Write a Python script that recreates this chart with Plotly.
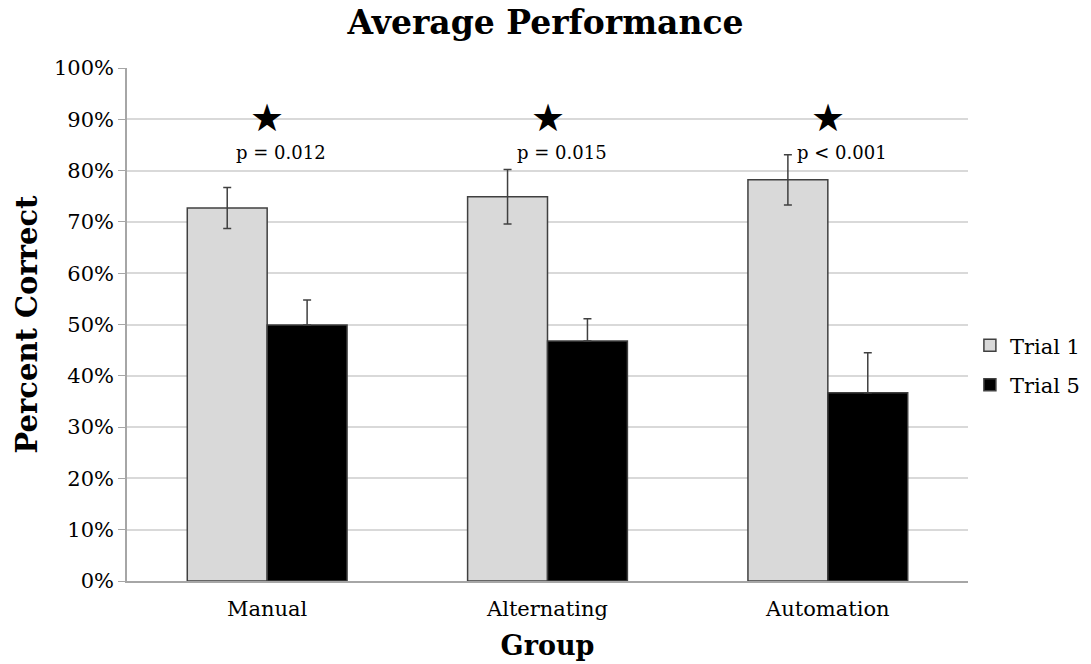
import plotly.graph_objects as go

groups = ["Manual", "Alternating", "Automation"]
trial1 = [72.7, 74.9, 78.2]
trial1_err = [4.0, 5.3, 4.9]
trial5 = [49.9, 46.8, 36.7]
trial5_err = [4.9, 4.3, 7.8]
p_labels = ["p = 0.012", "p = 0.015", "p < 0.001"]
star_y = 90.2
p_y = 83.6
y_ticks = list(range(0, 101, 10))
y_tick_text = [f"{v}%" for v in y_ticks]

FONT = "DejaVu Serif"
EDGE = "#404040"

fig = go.Figure()
fig.add_trace(go.Bar(
    name="Trial 1", x=groups, y=trial1, legendgroup="t1",
    marker=dict(color="#d9d9d9", line=dict(color=EDGE, width=1.5)),
    error_y=dict(type="data", array=trial1_err, visible=True, color=EDGE, thickness=1.5, width=4),
))
fig.add_trace(go.Bar(
    name="Trial 5", x=groups, y=trial5, legendgroup="t5",
    marker=dict(color="#000000", line=dict(color=EDGE, width=1.5)),
    error_y=dict(type="data", symmetric=False, array=trial5_err, arrayminus=[0] * len(trial5_err),
                 visible=True, color=EDGE, thickness=1.5, width=4),
))

for g, p in zip(groups, p_labels):
    fig.add_annotation(x=g, y=star_y, text="★", showarrow=False,
                       font=dict(family=FONT, size=38, color="black"), yanchor="middle")
    fig.add_annotation(x=g, y=p_y, text=p, showarrow=False, xshift=14,
                       font=dict(family=FONT, size=18, color="black"), yanchor="middle")

fig.update_layout(
    width=1091, height=664,
    paper_bgcolor="white", plot_bgcolor="white",
    margin=dict(l=127, r=123, t=68, b=83),
    barmode="group", bargap=0.43, bargroupgap=0,
    font=dict(family=FONT, color="black", size=20),
    title=dict(text="<b>Average Performance</b>", x=0.5, xanchor="center", y=0.966, yanchor="middle",
               font=dict(family=FONT, size=33, color="black")),
    legend=dict(xref="container", yref="container", x=0.889, xanchor="left", y=0.45, yanchor="middle",
                font=dict(family=FONT, size=21, color="black"),
                itemwidth=30, tracegroupgap=9, bgcolor="rgba(0,0,0,0)"),
    hovermode=False,
)
fig.update_yaxes(
    range=[0, 100], tickvals=y_ticks, ticktext=y_tick_text,
    showgrid=True, gridcolor="#d9d9d9", gridwidth=1.5,
    showline=True, linecolor="#a6a6a6", linewidth=1.5,
    ticks="outside", tickcolor="#a6a6a6", ticklen=7,
    tickfont=dict(family=FONT, size=21, color="black"),
    title=dict(text="<b>Percent Correct</b>", font=dict(family=FONT, size=29, color="black"), standoff=8),
    zeroline=False, automargin=False,
)
fig.update_xaxes(
    showline=True, linecolor="#a6a6a6", linewidth=1.5,
    tickfont=dict(family=FONT, size=21, color="black"), ticklabelstandoff=8,
    title=dict(text="<b>Group</b>", font=dict(family=FONT, size=27, color="black"), standoff=16),
    automargin=False,
)

fig.write_html("out.html", config={"displayModeBar": False},
               post_script="document.body.style.margin='0';")
